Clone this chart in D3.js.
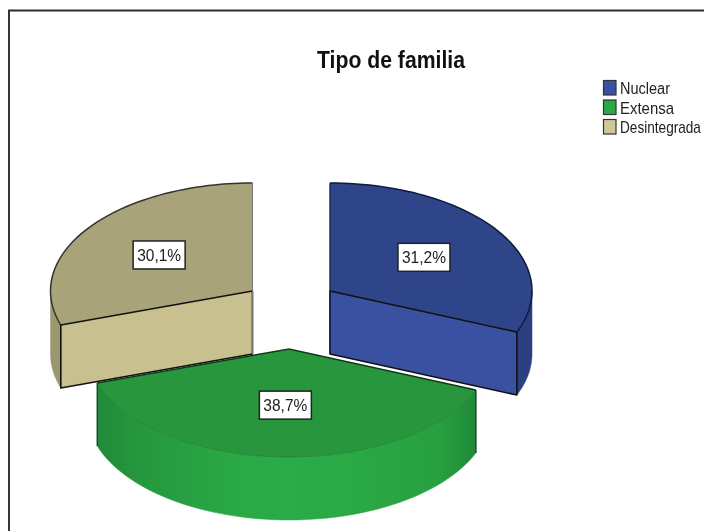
<!DOCTYPE html>
<html><head><meta charset="utf-8">
<style>html,body{margin:0;padding:0;background:#fff;overflow:hidden}svg{display:block;filter:blur(0.45px)}</style>
<script src="https://cdn.jsdelivr.net/npm/d3@7"></script></head>
<body><svg id="c" width="704" height="531"></svg>
<script>
const categories = ["Nuclear","Extensa","Desintegrada"];
const values = [31.2,38.7,30.1];
const labels = ["31,2%","38,7%","30,1%"];
const swatch = ["#3a51a1","#2aaa47","#cfc796"];
const topFill = ["#2f4589","#27963c","#a9a379"];
const cutFill = ["#3a51a1","#27963c","#c8c08e"];
const sideFill = ["#2c3f80","#2aaa47","#9d9770"];
const apexX = [330,289,252.5];
const apexY = [291,349,291];
const labelK = [0.56,0.52,0.57];
const legendWidth = [50,54,81];
const rx = 202, ry = 108, depth = 63;
const svg = d3.select("#c");
const font = "'Liberation Sans',Arial,sans-serif";

svg.append("path").attr("d","M9,531V10.5H704").attr("fill","none").attr("stroke","#2c2c2c").attr("stroke-width",1.9);

const arcs = d3.pie().sort(null)(values);
const pt = (i,a,dz=0)=>[apexX[i]+rx*Math.sin(a), apexY[i]-ry*Math.cos(a)+dz];
const line = d3.line();
const steps = (a,b)=>d3.range(0,61).map(k=>a+(b-a)*k/60);

const defs = svg.append("defs");
const grad = defs.append("linearGradient").attr("id","gs");
[[0,"#208a38"],[.12,"#25983e"],[.35,"#2aa845"],[.5,"#2bac48"],[.7,"#2aa845"],[.9,"#27a040"],[1,"#208a38"]]
  .forEach(s=>grad.append("stop").attr("offset",s[0]).attr("stop-color",s[1]));

function side(i,a,b,fill){
  const up = steps(a,b).map(t=>pt(i,t));
  const dn = steps(b,a).map(t=>pt(i,t,depth));
  svg.append("path").attr("d",line(up.concat(dn))+"Z").attr("fill",fill).attr("stroke",fill).attr("stroke-width",.5);
}
function topFace(i,a,b,stroke,sw){
  const rim = steps(a,b).map(t=>pt(i,t));
  svg.append("path").attr("d",line([[apexX[i],apexY[i]],...rim])+"Z").attr("fill",topFill[i]);
  svg.append("path").attr("d",line(rim)).attr("fill","none").attr("stroke",stroke).attr("stroke-width",sw);
}
function quad(i,a,fill){
  const p = pt(i,a), A=[apexX[i],apexY[i]];
  svg.append("path").attr("d",line([A,p,[p[0],p[1]+depth],[A[0],A[1]+depth]])+"Z")
    .attr("fill",fill).attr("stroke","#111").attr("stroke-width",1.6).attr("stroke-linejoin","round");
}

const t = arcs[2];
side(2,t.startAngle,Math.PI*1.5,sideFill[2]);
topFace(2,t.startAngle,t.endAngle,"#333",1.5);
quad(2,t.startAngle,cutFill[2]);
svg.append("path").attr("d",line([[apexX[2],apexY[2]],[apexX[2],pt(2,t.endAngle)[1]],[apexX[2],apexY[2]+depth]])).attr("fill","none").attr("stroke","#777").attr("stroke-width",1);

const b = arcs[0];
side(0,Math.PI/2,b.endAngle,sideFill[0]);
topFace(0,b.startAngle,b.endAngle,"#111a3c",1.5);
quad(0,b.endAngle,cutFill[0]);
svg.append("path").attr("d",line([[apexX[0],pt(0,0)[1]],[apexX[0],apexY[0]+depth]])).attr("fill","none").attr("stroke","#1a2550").attr("stroke-width",1.4);

const g = arcs[1];
side(1,g.startAngle,g.endAngle,"url(#gs)");
const gl = pt(1,g.endAngle), gr = pt(1,g.startAngle);
topFace(1,g.startAngle,g.endAngle,"#1f8034",.8);
svg.append("path").attr("d",line([gl,[apexX[1],apexY[1]],gr])).attr("fill","none").attr("stroke","#16361d").attr("stroke-width",1.4);
svg.append("path").attr("d",line([gl,[gl[0],gl[1]+depth]])).attr("stroke","#1b3a22").attr("stroke-width",1.3);
svg.append("path").attr("d",line([gr,[gr[0],gr[1]+depth]])).attr("stroke","#1b3a22").attr("stroke-width",1.3);

arcs.forEach((d,i)=>{
  const m=(d.startAngle+d.endAngle)/2;
  const x=apexX[i]+rx*labelK[i]*Math.sin(m), y=apexY[i]-ry*labelK[i]*Math.cos(m);
  svg.append("rect").attr("x",x-26).attr("y",y-14).attr("width",52).attr("height",28).attr("fill","#fff").attr("stroke","#222").attr("stroke-width",1.5);
  svg.append("text").attr("x",x).attr("y",y+6).attr("text-anchor","middle").attr("font-family",font).attr("font-size",17).attr("fill","#222").attr("textLength",44).attr("lengthAdjust","spacingAndGlyphs").text(labels[i]);
});

svg.append("text").attr("x",391).attr("y",67.5).attr("text-anchor","middle").attr("font-family",font).attr("font-size",23).attr("font-weight",700).attr("fill","#111").attr("textLength",148).attr("lengthAdjust","spacingAndGlyphs").text("Tipo de familia");

const ly = d3.scalePoint().domain(categories).range([88,127]);
categories.forEach((c,i)=>{
  svg.append("rect").attr("x",603.5).attr("y",ly(c)-7.5).attr("width",12.5).attr("height",14.5).attr("fill",swatch[i]).attr("stroke","#333").attr("stroke-width",1.2);
  const txt = svg.append("text").attr("font-family",font).attr("font-size",16).attr("fill","#222").text(c);
  const sx = legendWidth[i]/txt.node().getComputedTextLength();
  txt.attr("transform",`translate(620,${ly(c)+6}) scale(${sx},1)`);
});
</script></body></html>
